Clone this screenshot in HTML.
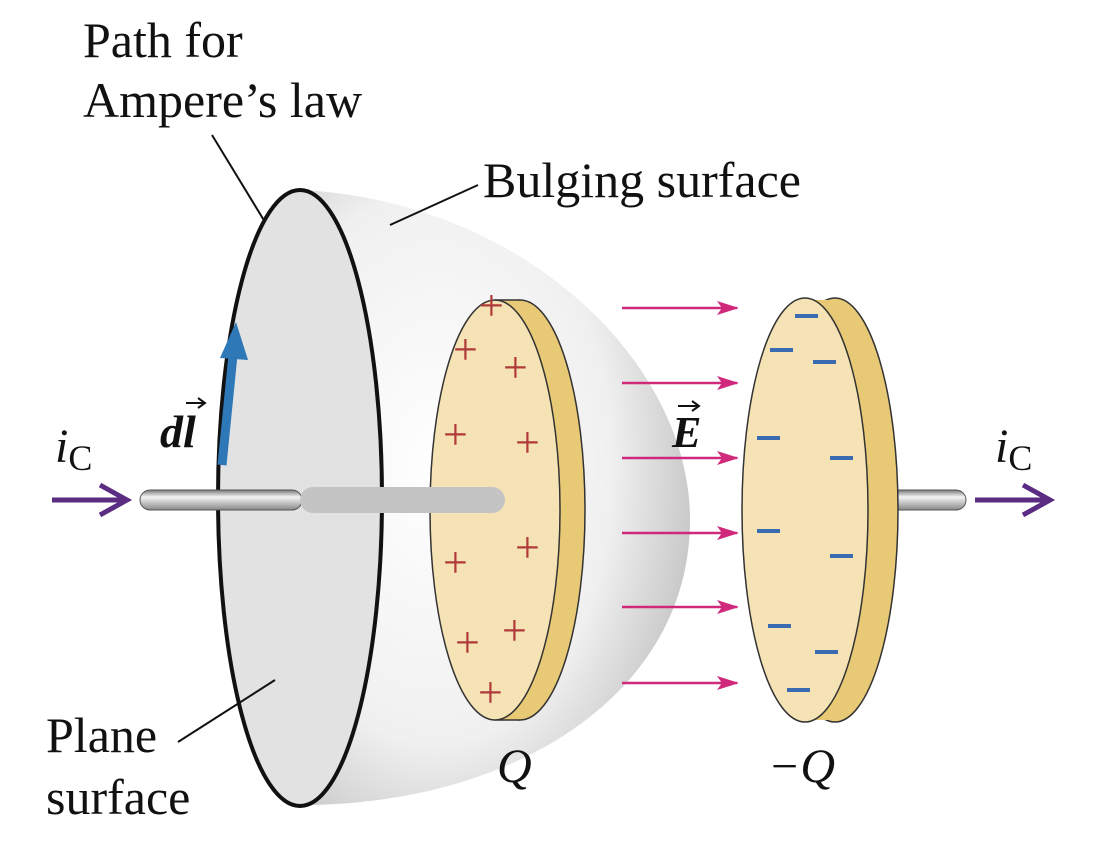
<!DOCTYPE html>
<html><head><meta charset="utf-8">
<style>
html,body{margin:0;padding:0;background:#fff;}
svg{display:block;}
text{font-family:"Liberation Serif",serif;fill:#111;}
</style></head>
<body>
<svg width="1094" height="856" viewBox="0 0 1094 856">
<defs>
<radialGradient id="bulge" cx="0.35" cy="0.45" r="0.75">
<stop offset="0" stop-color="#ffffff"/><stop offset="0.6" stop-color="#f0f0f0"/><stop offset="1" stop-color="#b8b8b8"/>
</radialGradient>
<linearGradient id="wire" x1="0" y1="0" x2="0" y2="1">
<stop offset="0" stop-color="#777"/><stop offset="0.35" stop-color="#f4f4f4"/><stop offset="1" stop-color="#888"/>
</linearGradient>
<marker id="pk" markerWidth="22" markerHeight="16" refX="20" refY="8" orient="auto" markerUnits="userSpaceOnUse"><path d="M0,1 L22,8 L0,15 L5,8Z" fill="#d0287a"/></marker>
</defs>

<path d="M300,190 C520,200 690,360 690,520 C690,690 520,805 300,805 Z" fill="url(#bulge)"/>
<ellipse cx="300" cy="498" rx="82" ry="308" fill="#e2e2e2" stroke="#111" stroke-width="4"/>

<rect x="140" y="490" width="162" height="20" rx="10" fill="url(#wire)" stroke="#555" stroke-width="1"/>

<ellipse cx="520" cy="510" rx="65" ry="210" fill="#e8c976" stroke="#333" stroke-width="1.5"/>
<rect x="495" y="300" width="25" height="420" fill="#e8c976"/>
<path d="M495,300 L520,300 M495,720 L520,720" stroke="#333" stroke-width="1.5"/>
<ellipse cx="495" cy="510" rx="65" ry="210" fill="#f6e3b5" stroke="#333" stroke-width="1.5"/>
<rect x="300" y="487" width="205" height="26" rx="13" fill="#c4c4c4"/>
<g font-size="44">
<text style="fill:#b03a3a" x="479" y="320">+</text><text style="fill:#b03a3a" x="453" y="364">+</text><text style="fill:#b03a3a" x="503" y="382">+</text>
<text style="fill:#b03a3a" x="443" y="449">+</text><text style="fill:#b03a3a" x="515" y="457">+</text>
<text style="fill:#b03a3a" x="443" y="577">+</text><text style="fill:#b03a3a" x="515" y="562">+</text>
<text style="fill:#b03a3a" x="455" y="657">+</text><text style="fill:#b03a3a" x="502" y="645">+</text><text style="fill:#b03a3a" x="478" y="707">+</text>
</g>

<g stroke="#d0287a" stroke-width="2.5" marker-end="url(#pk)">
<line x1="622" y1="308" x2="737" y2="308"/><line x1="622" y1="383" x2="737" y2="383"/>
<line x1="622" y1="458" x2="737" y2="458"/><line x1="622" y1="533" x2="737" y2="533"/>
<line x1="622" y1="607" x2="737" y2="607"/><line x1="622" y1="683" x2="737" y2="683"/>
</g>

<rect x="880" y="490" width="86" height="20" rx="10" fill="url(#wire)" stroke="#555" stroke-width="1"/>
<ellipse cx="835" cy="510" rx="63" ry="212" fill="#e8c976" stroke="#333" stroke-width="1.5"/>
<rect x="805" y="300" width="30" height="420" fill="#e8c976"/>
<ellipse cx="805" cy="510" rx="63" ry="212" fill="#f6e3b5" stroke="#333" stroke-width="1.5"/>
<g stroke="#3a6ab0" stroke-width="4">
<line x1="795" y1="316" x2="818" y2="316"/><line x1="770" y1="350" x2="793" y2="350"/><line x1="813" y1="362" x2="836" y2="362"/>
<line x1="757" y1="438" x2="780" y2="438"/><line x1="830" y1="458" x2="853" y2="458"/>
<line x1="757" y1="531" x2="780" y2="531"/><line x1="830" y1="556" x2="853" y2="556"/>
<line x1="768" y1="626" x2="791" y2="626"/><line x1="815" y1="652" x2="838" y2="652"/><line x1="787" y1="690" x2="810" y2="690"/>
</g>

<g stroke="#5a2d82" stroke-width="5" fill="none">
<line x1="52" y1="500" x2="125" y2="500"/><path d="M100,485 L127,500 L100,515"/>
<line x1="975" y1="500" x2="1048" y2="500"/><path d="M1023,485 L1050,500 L1023,515"/>
</g>

<g>
<line x1="222" y1="465" x2="233" y2="355" stroke="#2f78b8" stroke-width="9"/>
<path d="M220,358 L236,322 L248,360 Z" fill="#2f78b8"/>
</g>

<g stroke="#111" stroke-width="2">
<line x1="212" y1="135" x2="265" y2="222"/>
<line x1="478" y1="185" x2="390" y2="225"/>
<line x1="178" y1="742" x2="275" y2="680"/>
</g>

<text x="83" y="57" font-size="50">Path for</text>
<text x="83" y="117" font-size="50">Ampere’s law</text>
<text x="483" y="197" font-size="50">Bulging surface</text>
<text x="46" y="752" font-size="50">Plane</text>
<text x="46" y="814" font-size="50">surface</text>
<text x="497" y="782" font-size="48" font-style="italic">Q</text>
<text x="768" y="782" font-size="48" font-style="italic">−Q</text>
<text x="55" y="462" font-size="48" font-style="italic">i<tspan font-style="normal" font-size="36" dy="8">C</tspan></text>
<text x="995" y="462" font-size="48" font-style="italic">i<tspan font-style="normal" font-size="36" dy="8">C</tspan></text>
<text x="160" y="447" font-size="46" font-style="italic" font-weight="bold">dl</text>
<path d="M186,403 L204,403 M198,398 L205,403 L198,408" stroke="#111" stroke-width="2" fill="none"/>
<text x="672" y="447" font-size="44" font-style="italic" font-weight="bold">E</text>
<path d="M678,406 L698,406 M692,401 L699,406 L692,411" stroke="#111" stroke-width="2" fill="none"/>
</svg>
</body></html>
